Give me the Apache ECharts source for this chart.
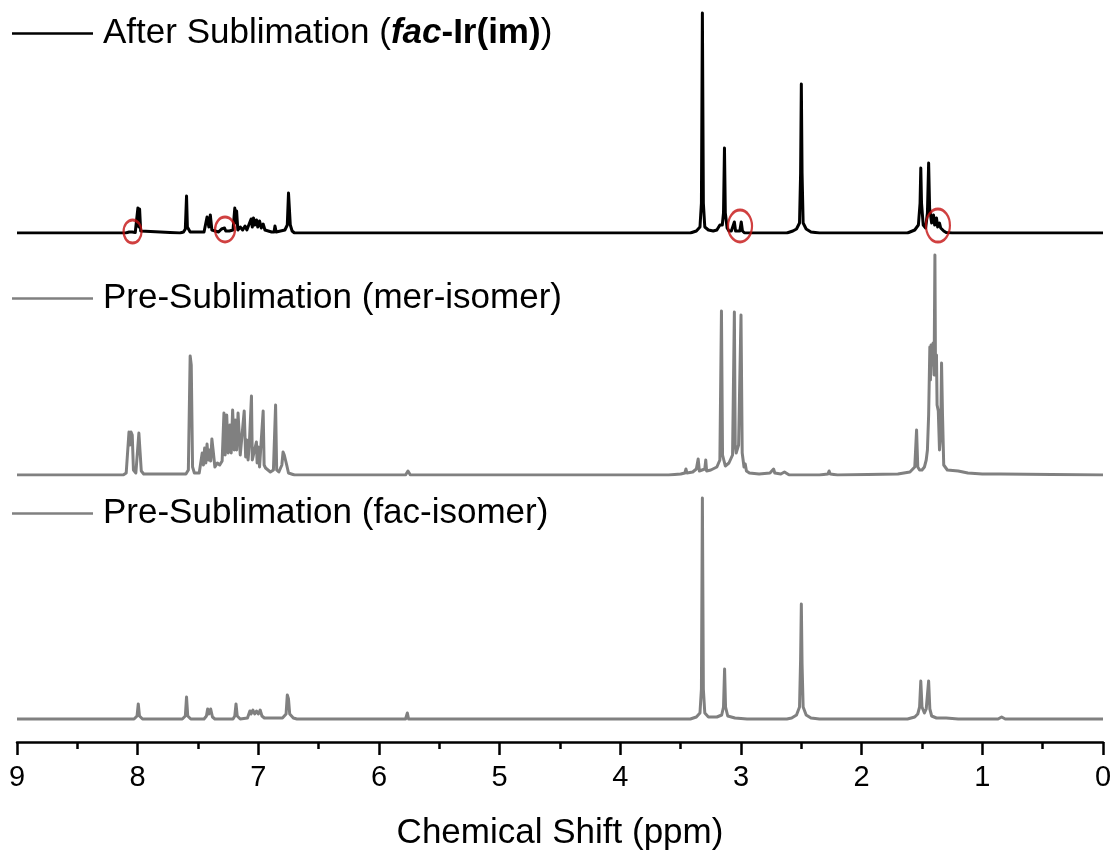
<!DOCTYPE html>
<html>
<head>
<meta charset="utf-8">
<title>1H NMR</title>
<script src="https://cdn.jsdelivr.net/npm/echarts@6/dist/echarts.min.js"></script>
<style>
  html, body { margin: 0; padding: 0; background: #fff; }
  #chart { width: 1116px; height: 853px; }
</style>
</head>
<body>
<div id="chart"></div>
<script>
// 谱图数据 [化学位移 ppm, 相对强度]
const afterSublimation = [
  [9.0, 0], [8.10, 0], [8.07, 1], [8.055, 3], [8.045, 1], [8.035, 3], [8.02, 0.5],
  [8.006, 2], [7.998, 25], [7.99, 6], [7.984, 24], [7.975, 2], [7.96, 0],
  [7.65, 0], [7.62, 1], [7.605, 4], [7.595, 37], [7.588, 6], [7.575, 5], [7.565, 1], [7.50, 1],
  [7.45, 1], [7.44, 2], [7.425, 16], [7.41, 6], [7.398, 18], [7.385, 3], [7.37, 2],
  [7.33, 1], [7.305, 4], [7.295, 2], [7.28, 5], [7.27, 2], [7.255, 4], [7.24, 2],
  [7.21, 3], [7.195, 25], [7.188, 10], [7.18, 22], [7.17, 3],
  [7.15, 6], [7.13, 3], [7.11, 7], [7.095, 3],
  [7.06, 14], [7.05, 6], [7.04, 15], [7.03, 8], [7.015, 13], [7.005, 6], [6.99, 12], [6.975, 5], [6.96, 9], [6.945, 3], [6.93, 2],
  [6.89, 1], [6.87, 1], [6.862, 7], [6.852, 1],
  [6.78, 3], [6.76, 8], [6.75, 40], [6.742, 38], [6.735, 8], [6.72, 2], [6.70, 0],
  [3.42, 0], [3.37, 2], [3.34, 6], [3.328, 30], [3.32, 220], [3.312, 30], [3.30, 6], [3.27, 3],
  [3.23, 2], [3.20, 3], [3.175, 8], [3.165, 10], [3.155, 8], [3.145, 20], [3.137, 85], [3.13, 20], [3.115, 5], [3.10, 2],
  [3.08, 2], [3.065, 3], [3.055, 11], [3.045, 2], [3.03, 1], [3.01, 2], [2.998, 11], [2.988, 2], [2.97, 0],
  [2.62, 0], [2.57, 2], [2.54, 4], [2.515, 10], [2.506, 60], [2.50, 149], [2.494, 60], [2.485, 10], [2.46, 4], [2.42, 1], [2.35, 0],
  [1.62, 0], [1.56, 3], [1.53, 8], [1.516, 30], [1.51, 65], [1.504, 30], [1.49, 8], [1.47, 5],
  [1.455, 20], [1.445, 70], [1.437, 25], [1.42, 10], [1.405, 18], [1.395, 8], [1.38, 15], [1.37, 6],
  [1.355, 10], [1.345, 5], [1.33, 7], [1.32, 2], [1.30, 0.5], [1.25, 0], [0, 0]
]

const preMer = [
  [9.0, 0], [8.12, 0], [8.095, 2], [8.085, 3], [8.072, 43], [8.065, 30], [8.055, 43], [8.045, 40], [8.035, 5],
  [8.015, 2], [7.99, 42], [7.982, 40], [7.97, 4], [7.95, 1],
  [7.60, 1], [7.58, 5], [7.565, 119], [7.556, 110], [7.545, 8], [7.53, 2], [7.49, 2],
  [7.475, 4], [7.465, 22], [7.455, 10], [7.445, 27], [7.435, 12], [7.425, 31], [7.415, 15], [7.405, 25],
  [7.395, 14], [7.385, 36], [7.375, 25], [7.36, 8], [7.34, 12], [7.32, 10], [7.30, 14],
  [7.285, 62], [7.275, 20], [7.262, 60], [7.25, 22], [7.235, 50], [7.225, 22], [7.213, 65], [7.2, 25],
  [7.19, 55], [7.18, 25], [7.168, 62], [7.15, 20], [7.135, 40], [7.117, 64], [7.105, 18], [7.095, 35],
  [7.085, 15], [7.075, 30], [7.057, 79], [7.05, 15], [7.04, 15], [7.016, 33], [7.01, 12], [7.0, 28],
  [6.99, 8], [6.975, 8], [6.96, 64], [6.952, 10], [6.94, 7], [6.92, 5], [6.9, 3], [6.875, 5],
  [6.857, 70], [6.848, 5], [6.83, 3], [6.805, 10], [6.795, 23], [6.785, 20], [6.775, 22], [6.765, 10], [6.75, 2], [6.70, 0],
  [5.78, 0], [5.76, 4], [5.74, 0],
  [3.60, 0], [3.50, 1], [3.465, 2], [3.456, 6], [3.448, 2], [3.40, 3], [3.37, 6], [3.355, 16], [3.345, 4],
  [3.33, 4], [3.30, 6], [3.292, 15], [3.285, 4], [3.25, 5], [3.20, 8], [3.175, 15], [3.162, 164], [3.153, 20],
  [3.13, 9], [3.10, 12], [3.07, 20], [3.055, 163], [3.048, 30], [3.04, 22], [3.03, 22], [3.02, 30], [3.0, 160],
  [2.99, 22], [2.975, 8], [2.965, 11], [2.955, 4], [2.93, 2], [2.85, 1], [2.76, 2], [2.73, 6], [2.72, 2],
  [2.67, 1], [2.64, 3], [2.625, 3], [2.60, 0], [2.35, 0], [2.28, 1], [2.27, 4], [2.26, 1], [2.20, 0],
  [1.70, 1], [1.60, 3], [1.56, 8], [1.545, 45], [1.535, 8], [1.52, 5], [1.51, 7], [1.50, 5], [1.48, 8],
  [1.465, 15], [1.455, 25], [1.445, 60], [1.435, 128], [1.43, 95], [1.425, 130], [1.415, 110], [1.408, 132],
  [1.40, 100], [1.393, 220], [1.388, 100], [1.38, 120], [1.375, 70], [1.365, 64], [1.355, 25], [1.345, 40],
  [1.338, 112], [1.33, 60], [1.32, 10], [1.29, 5], [1.20, 4], [1.12, 2], [1.00, 1], [0.85, 1], [0, 0]
]

const preFac = [
  [9.0, 0], [8.03, 0], [8.005, 3], [7.995, 15], [7.985, 3], [7.96, 0],
  [7.63, 0], [7.605, 3], [7.595, 22], [7.585, 3], [7.56, 0],
  [7.45, 0], [7.43, 3], [7.42, 10], [7.41, 5], [7.395, 10], [7.38, 2], [7.36, 0],
  [7.21, 0], [7.195, 3], [7.185, 15], [7.175, 3], [7.15, 0],
  [7.09, 1], [7.07, 8], [7.06, 5], [7.045, 9], [7.03, 5], [7.015, 8], [7.0, 5], [6.985, 9], [6.97, 3], [6.95, 1],
  [6.80, 1], [6.77, 5], [6.76, 24], [6.75, 20], [6.74, 5], [6.71, 1], [6.68, 0],
  [5.78, 0], [5.765, 6], [5.755, 0],
  [3.42, 0], [3.37, 2], [3.34, 6], [3.328, 30], [3.32, 221], [3.312, 30], [3.30, 6], [3.27, 2],
  [3.20, 2], [3.16, 4], [3.145, 12], [3.136, 50], [3.128, 12], [3.11, 3], [3.05, 1], [2.95, 0],
  [2.62, 0], [2.58, 1], [2.54, 4], [2.515, 12], [2.506, 60], [2.50, 115], [2.494, 55], [2.485, 12], [2.46, 4], [2.42, 1], [2.35, 0],
  [1.62, 0], [1.56, 2], [1.535, 5], [1.52, 12], [1.51, 38], [1.50, 12], [1.48, 6],
  [1.465, 10], [1.455, 12], [1.445, 38], [1.435, 10], [1.42, 3], [1.38, 1], [1.30, 1], [1.20, 0],
  [0.87, 0], [0.84, 2], [0.81, 0], [0, 0]
]

// 红圈标注位置
const circlePpm = [8.042, 7.276, 3.008, 1.368]
const circleHeight = [1.5, 3.5, 7, 7.5]

const circleSizes = [[18, 23], [20, 25], [24, 32], [24, 33]]

const FONT = 'Liberation Sans, Arial, sans-serif'
const BLACK = '#000000'
const GRAY = '#808080'
const LINE_W = 3

const chart = echarts.init(document.getElementById('chart'), null, { renderer: 'canvas' })

const hiddenX = (i) => ({ type: 'value', gridIndex: i, min: 0, max: 9, inverse: true, show: false })

const legendBase = (top, name) => ({
  left: 12,
  top: top,
  padding: 0,
  selectedMode: false,
  icon: 'rect',
  itemWidth: 81,
  itemHeight: 2.5,
  data: [name],
  textStyle: { fontFamily: FONT, fontSize: 35, color: BLACK, padding: [0, 0, 0, 5] }
})

const topLegend = legendBase(16, 'After Sublimation')
topLegend.formatter = () => 'After Sublimation ({bi|fac}{b|-Ir(im)})'
topLegend.textStyle.rich = {
  bi: { fontFamily: FONT, fontSize: 35, fontWeight: 'bold', fontStyle: 'italic', color: BLACK },
  b: { fontFamily: FONT, fontSize: 35, fontWeight: 'bold', color: BLACK }
}

const spectrum = (name, idx, data, color) => ({
  name: name,
  type: 'line',
  xAxisIndex: idx,
  yAxisIndex: idx,
  data: data,
  showSymbol: false,
  silent: true,
  color: color,
  lineStyle: { color: color, width: LINE_W, join: 'round' }
})

const option = {
  animation: false,
  backgroundColor: '#fff',
  legend: [
    topLegend,
    legendBase(281, 'Pre-Sublimation (mer-isomer)'),
    legendBase(496, 'Pre-Sublimation (fac-isomer)')
  ],
  grid: [
    { left: 17, right: 13, top: 3, height: 230 },
    { left: 17, right: 13, top: 245, height: 230 },
    { left: 17, right: 13, top: 489, height: 253 }
  ],
  xAxis: [
    hiddenX(0),
    hiddenX(1),
    {
      type: 'value',
      gridIndex: 2,
      min: 0,
      max: 9,
      interval: 1,
      inverse: true,
      name: 'Chemical Shift (ppm)',
      nameLocation: 'middle',
      nameGap: 74,
      nameTextStyle: { fontFamily: FONT, fontSize: 35, color: BLACK },
      axisLine: { onZero: false, lineStyle: { color: BLACK, width: 2.5 } },
      axisTick: { show: true, inside: false, length: 13, lineStyle: { color: BLACK, width: 2.5 } },
      minorTick: { show: true, splitNumber: 2, length: 7, lineStyle: { color: BLACK, width: 2.5 } },
      axisLabel: { fontFamily: FONT, fontSize: 29, color: BLACK, margin: 21, showMinLabel: true, showMaxLabel: true },
      splitLine: { show: false },
      minorSplitLine: { show: false }
    }
  ],
  yAxis: [
    { type: 'value', gridIndex: 0, min: 0, max: 230, show: false },
    { type: 'value', gridIndex: 1, min: 0, max: 230, show: false },
    { type: 'value', gridIndex: 2, min: -23, max: 230, show: false }
  ],
  series: [
    spectrum('After Sublimation', 0, afterSublimation, BLACK),
    spectrum('Pre-Sublimation (mer-isomer)', 1, preMer, GRAY),
    spectrum('Pre-Sublimation (fac-isomer)', 2, preFac, GRAY),
    {
      name: 'circles',
      type: 'scatter',
      xAxisIndex: 0,
      yAxisIndex: 0,
      data: circlePpm.map((p, i) => [p, circleHeight[i]]),
      symbol: 'circle',
      symbolSize: (val, params) => circleSizes[params.dataIndex],
      silent: true,
      z: 5,
      itemStyle: { color: 'rgba(0,0,0,0)', borderColor: '#c41010', borderWidth: 2.5 }
    }
  ]
}

chart.setOption(option)
</script>
</body>
</html>
